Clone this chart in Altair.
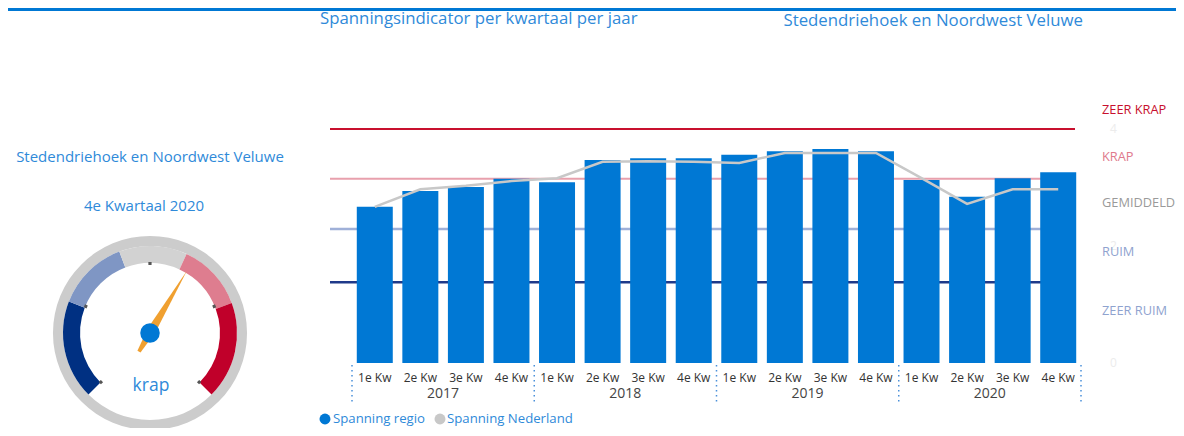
import altair as alt
import pandas as pd

# ---------------- data ----------------
jaren = ["2017"] * 4 + ["2018"] * 4 + ["2019"] * 4 + ["2020"] * 4
kwartalen = ["1e Kw", "2e Kw", "3e Kw", "4e Kw"] * 4
spanning_regio = [2.67, 2.94, 3.01, 3.15, 3.09, 3.47, 3.50, 3.50,
                  3.56, 3.62, 3.66, 3.62, 3.13, 2.84, 3.16, 3.26]
spanning_nederland = [2.67, 2.97, 3.03, 3.11, 3.16, 3.44, 3.45, 3.44,
                      3.42, 3.59, 3.59, 3.59, 3.16, 2.72, 2.97, 2.97]

grens_namen = ["zeer ruim", "ruim", "gemiddeld", "krap"]
grens_waarden = [1.38, 2.29, 3.15, 4.0]

klasse_labels = ["ZEER KRAP", "KRAP", "GEMIDDELD", "RUIM", "ZEER RUIM"]
klasse_label_waarden = [4.32, 3.52, 2.74, 1.90, 0.89]

as_waarden = [0, 2, 4]

jaar_labels = ["2017", "2018", "2019", "2020"]

meter_min, meter_max = 0.13, 5.23
meter_banden = ["zeer ruim", "ruim", "gemiddeld", "krap", "zeer krap"]
meter_grenzen = [meter_min, 1.38, 2.29, 3.15, 4.0, meter_max]
meter_streepjes = [0.13, 1.405, 2.68, 3.955, 5.23]
huidige_klasse = "krap"
regio_naam = "Stedendriehoek en Noordwest Veluwe"
periode = "4e Kwartaal 2020"
titel = "Spanningsindicator per kwartaal per jaar"
legenda = ["Spanning regio", "Spanning Nederland"]

# ---------------- tables ----------------
keys = [f"{j} {k}" for j, k in zip(jaren, kwartalen)]
df = pd.DataFrame({"key": keys, "jaar": jaren, "kw": kwartalen,
                   "regio": spanning_regio, "nederland": spanning_nederland})
df_grens = pd.DataFrame({"naam": grens_namen, "waarde": grens_waarden})
df_lab = pd.DataFrame({"label": klasse_labels, "waarde": klasse_label_waarden})
df_as = pd.DataFrame({"waarde": as_waarden})
df_band = pd.DataFrame({"band": meter_banden,
                        "start": meter_grenzen[:-1], "end": meter_grenzen[1:]})
df_tick = pd.DataFrame({"start": [v - 0.025 for v in meter_streepjes],
                        "end": [v + 0.025 for v in meter_streepjes]})
df_needle = pd.DataFrame({"waarde": [spanning_regio[-1]]})
n_kw = len(kwartalen)
df_year = pd.DataFrame({"jaar": jaar_labels, "pos": [i * 4 + 2 for i in range(len(jaar_labels))]})
df_sep = pd.DataFrame({"pos": [i * 4 for i in range(len(jaar_labels) + 1)]})

FONT = "Open Sans"
BLUE = "#0078d4"
TXT_BLUE = "#2f8ad9"
XR = [344, 1073]

xs = alt.Scale(domain=keys, range=XR, paddingInner=0.21, paddingOuter=0.105)
xq = alt.Scale(domain=[0, n_kw], range=XR, nice=False, zero=False)
ys = alt.Scale(domain=[0, 4], range=[355, 121], nice=False, zero=False)
X = alt.X("key:N", scale=xs, axis=None)
XQ = alt.X("pos:Q", scale=xq, axis=None)
Y = lambda f: alt.Y(f, scale=ys, axis=None)

base = alt.Chart(df)

grens_colors = alt.Scale(domain=grens_namen, range=["#1f3a8a", "#9fb0d8", "#e8a0ad", "#c8102e"])
rules = alt.Chart(df_grens).mark_rule().encode(
    y=Y("waarde:Q"), x=alt.value(322), x2=alt.value(1067),
    color=alt.Color("naam:N", scale=grens_colors, legend=None),
    strokeWidth=alt.StrokeWidth("naam:N", scale=alt.Scale(domain=grens_namen, range=[2.5, 2, 2, 3]), legend=None),
)

bars = base.mark_bar(color=BLUE).encode(x=X, y=Y("regio:Q"))
line = base.mark_line(color="#c8c8c8", strokeWidth=2.5).encode(x=X, y=Y("nederland:Q"))

lab_colors = alt.Scale(domain=klasse_labels, range=["#c8102e", "#e07a8c", "#9a9a9a", "#8fa3cf", "#8fa3cf"])
axlabels = alt.Chart(df_as).mark_text(align="left", baseline="middle", font=FONT, fontSize=12,
                                       color="#ececec").encode(
    y=Y("waarde:Q"), x=alt.value(1102), text="waarde:Q")
labels = alt.Chart(df_lab).mark_text(align="left", baseline="middle", font=FONT, fontSize=12.8).encode(
    y=Y("waarde:Q"), x=alt.value(1094), text="label:N",
    color=alt.Color("label:N", scale=lab_colors, legend=None))

kw_text = base.mark_text(baseline="middle", font=FONT, fontSize=12, color="#333333").encode(
    x=X, y=alt.value(370), text="kw:N")
year_text = alt.Chart(df_year).mark_text(baseline="middle", font=FONT, fontSize=14, color="#444444").encode(
    x=XQ, y=alt.value(386), text="jaar:N")
sep = alt.Chart(df_sep).mark_rule(color="#4a90d9", strokeDash=[1.5, 3.5], strokeWidth=1.5).encode(
    x=XQ, y=alt.value(357), y2=alt.value(395))

# titles
def txt(s, x, y, size, color=TXT_BLUE, align="center", baseline="middle"):
    return alt.Chart(pd.DataFrame({"t": [s]})).mark_text(
        align=align, baseline=baseline, font=FONT, fontSize=size, color=color).encode(
        x=alt.value(x), y=alt.value(y), text="t:N")

top_line = alt.Chart(pd.DataFrame({"a": [0]})).mark_rule(color=BLUE, strokeWidth=3).encode(
    x=alt.value(0), x2=alt.value(1168), y=alt.value(1.5))

t1 = txt(titel, 312, 16, 16.8, align="left", baseline="alphabetic")
t2 = txt(regio_naam, 1075, 17.5, 16.8, align="right", baseline="alphabetic")
t3 = txt(regio_naam, 142, 149, 15)
t4 = txt(periode, 136, 198, 15)
t5 = txt(huidige_klasse, 143, 378, 17.5)

# gauge
CX, CY = 142, 325
ring = alt.Chart(pd.DataFrame({"a": [0]})).mark_arc(
    theta=0, theta2=6.2832, radius=97, radius2=87, color="#cccccc").encode(
    x=alt.value(CX), y=alt.value(CY))
band_colors = alt.Scale(domain=meter_banden, range=["#003082", "#7f96c4", "#d2d2d2", "#de7d8f", "#c0002a"])
theta_scale = alt.Scale(domain=[meter_min, meter_max], range=[3.927, 8.639])
bands = alt.Chart(df_band).mark_arc(radius=87, radius2=70).encode(
    theta=alt.Theta("start:Q", scale=theta_scale, stack=None),
    theta2="end:Q",
    x=alt.value(CX), y=alt.value(CY),
    color=alt.Color("band:N", scale=band_colors, legend=None))
ticks = alt.Chart(df_tick).mark_arc(radius=71, radius2=68, color="#555555").encode(
    theta=alt.Theta("start:Q", scale=theta_scale, stack=None),
    theta2="end:Q",
    x=alt.value(CX), y=alt.value(CY))
needle = alt.Chart(df_needle).mark_point(
    shape="M 0 -1 L 0.06 -0.05 L 0.025 0.3 L -0.025 0.3 L -0.06 -0.05 Z",
    filled=True, opacity=1, color="#f0a030", size=20736).encode(
    x=alt.value(CX), y=alt.value(CY),
    angle=alt.Angle("waarde:Q", scale=alt.Scale(domain=[meter_min, meter_max], range=[225, 495]), legend=None))
hub = alt.Chart(pd.DataFrame({"a": [0]})).mark_circle(color=BLUE, size=380, opacity=1).encode(
    x=alt.value(CX), y=alt.value(CY))

# legend
LY = 411
leg1 = alt.Chart(pd.DataFrame({"a": [0]})).mark_circle(color=BLUE, size=120, opacity=1).encode(
    x=alt.value(317), y=alt.value(LY))
leg2 = alt.Chart(pd.DataFrame({"a": [0]})).mark_circle(color="#c8c8c8", size=120, opacity=1).encode(
    x=alt.value(432), y=alt.value(LY))
lt1 = txt(legenda[0], 325, LY, 13.2, align="left")
lt2 = txt(legenda[1], 439, LY, 13.2, align="left")

chart = alt.layer(
    top_line, t1, t2, t3, t4,
    rules, bars, line, axlabels, labels, kw_text, year_text, sep,
    ring, bands, ticks, needle, hub, t5,
    leg1, leg2, lt1, lt2,
).resolve_scale(x="independent", color="independent", strokeWidth="independent").properties(
    width=1168, height=420, padding=0,
    autosize=alt.AutoSizeParams(type="none"),
).configure_view(stroke=None)

chart.save("out.html", embed_options={"renderer": "svg", "actions": False})
